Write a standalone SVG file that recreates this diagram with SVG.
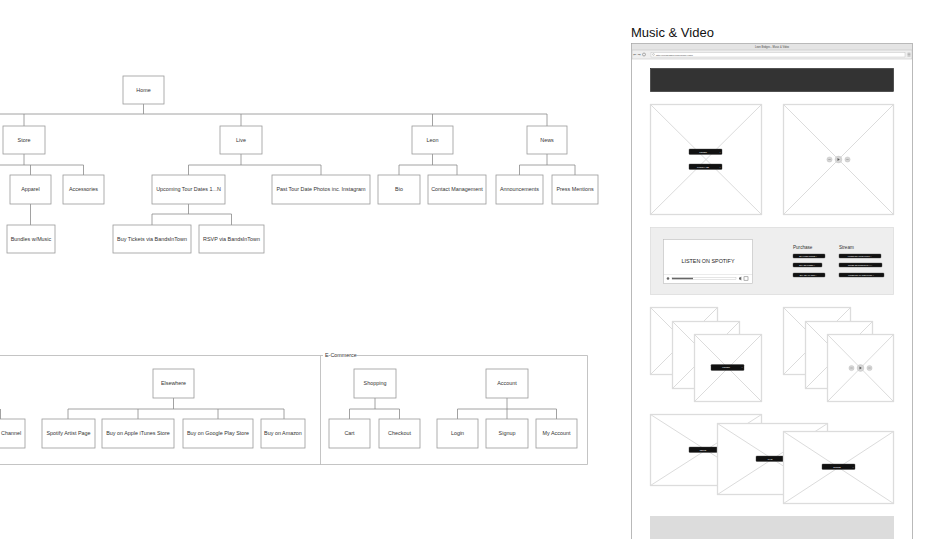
<svg xmlns="http://www.w3.org/2000/svg" width="936" height="539" viewBox="0 0 936 539">
<style>
.n rect{fill:#fff;stroke:#9a9a9a;stroke-width:0.8}
.n text{font-family:"Liberation Sans",Arial,sans-serif;font-size:5.4px;fill:#333;text-anchor:middle}
.c line,.c path{stroke:#8a8a8a;stroke-width:0.8;fill:none}
.ph{fill:#fff;stroke:#dcdcdc;stroke-width:1.3}
.phx{stroke:#dcdcdc;stroke-width:1}
.btn{fill:#111;stroke:#444;stroke-width:0.4}
.bt{font-family:"Liberation Sans",Arial,sans-serif;font-size:2.2px;fill:#fff;text-anchor:middle}
.ctl{fill:#d6d6d6;stroke:#bdbdbd;stroke-width:0.4}
</style>
<rect width="936" height="539" fill="#fff"/>

<!-- connectors -->
<g id="connectors" class="c">
<path d="M143.5 104V114M0 114H547M24 114V126M241 114V126M432.5 114V126M547 114V126"/>
<path d="M24 154V165M0 165H83.5M30.5 165V175M83.5 165V175M30.5 204V225"/>
<path d="M241 154V165M188.5 165H321M188.5 165V175M321 165V175"/>
<path d="M188.5 204V214M152 214H231.5M152 214V225M231.5 214V225"/>
<path d="M432.5 154V165M399 165H457M399 165V175M457 165V175"/>
<path d="M547 154V165M519.5 165H575M519.5 165V175M575 165V175"/>
<path d="M173.5 398V409M68 409H284M68 409V419M138 409V419M218 409V419M284 409V419M0.5 409V419"/>
<path d="M375 398V409M349.5 409H399.5M349.5 409V419M399.5 409V419"/>
<path d="M507 398V409M457.5 409H556.5M457.5 409V419M507 409V419M556.5 409V419"/>
</g>

<!-- E-Commerce frame -->
<g id="groups">
<path d="M0 355.5H587.5V464.5H0M320.5 355.5V464.5" fill="none" stroke="#b5b5b5" stroke-width="0.8"/>
<rect x="323" y="352" width="34" height="6" fill="#fff"/>
<text x="325" y="357.2" font-family="Liberation Sans,Arial,sans-serif" font-size="5.4" fill="#333">E-Commerce</text>
</g>

<!-- nodes -->
<g id="home" class="n"><rect x="123" y="76" width="41" height="28"/><text x="143.5" y="91.8">Home</text></g>
<g id="store" class="n"><rect x="3" y="126" width="42" height="28"/><text x="24" y="141.8">Store</text></g>
<g id="live" class="n"><rect x="220" y="126" width="42" height="28"/><text x="241" y="141.8">Live</text></g>
<g id="leon" class="n"><rect x="412" y="126" width="41" height="28"/><text x="432.5" y="141.8">Leon</text></g>
<g id="news" class="n"><rect x="527" y="126" width="40" height="28"/><text x="547" y="141.8">News</text></g>
<g id="apparel" class="n"><rect x="10" y="175" width="41" height="29"/><text x="30.5" y="191.3">Apparel</text></g>
<g id="accessories" class="n"><rect x="63" y="175" width="41" height="29"/><text x="83.5" y="191.3">Accessories</text></g>
<g id="bundles" class="n"><rect x="7" y="225" width="48" height="28"/><text x="31" y="240.8">Bundles w/Music</text></g>
<g id="upcoming" class="n"><rect x="152" y="175" width="73" height="29"/><text x="188.5" y="191.3">Upcoming Tour Dates 1...N</text></g>
<g id="past" class="n"><rect x="272" y="175" width="98" height="29"/><text x="321" y="191.3">Past Tour Date Photos inc. Instagram</text></g>
<g id="buytickets" class="n"><rect x="113" y="225" width="78" height="28"/><text x="152" y="240.8">Buy Tickets via BandsInTown</text></g>
<g id="rsvp" class="n"><rect x="199" y="225" width="65" height="28"/><text x="231.5" y="240.8">RSVP via BandsInTown</text></g>
<g id="bio" class="n"><rect x="378" y="175" width="42" height="29"/><text x="399" y="191.3">Bio</text></g>
<g id="contact" class="n"><rect x="428" y="175" width="58" height="29"/><text x="457" y="191.3">Contact Management</text></g>
<g id="announcements" class="n"><rect x="496" y="175" width="47" height="29"/><text x="519.5" y="191.3">Announcements</text></g>
<g id="press" class="n"><rect x="552" y="175" width="46" height="29"/><text x="575" y="191.3">Press Mentions</text></g>

<g id="elsewhere" class="n"><rect x="153" y="369" width="41" height="29"/><text x="173.5" y="385.3">Elsewhere</text></g>
<g id="channel" class="n"><rect x="-30" y="419" width="55" height="29"/><text x="1" y="435.3" style="text-anchor:start">Channel</text></g>
<g id="spotify" class="n"><rect x="42" y="419" width="53" height="29"/><text x="68.5" y="435.3">Spotify Artist Page</text></g>
<g id="itunes" class="n"><rect x="102" y="419" width="72" height="29"/><text x="138" y="435.3">Buy on Apple iTunes Store</text></g>
<g id="googleplay" class="n"><rect x="183" y="419" width="70" height="29"/><text x="218" y="435.3">Buy on Google Play Store</text></g>
<g id="amazon" class="n"><rect x="261" y="419" width="44" height="29"/><text x="283" y="435.3">Buy on Amazon</text></g>
<g id="shopping" class="n"><rect x="354" y="369" width="42" height="29"/><text x="375" y="385.3">Shopping</text></g>
<g id="account" class="n"><rect x="486" y="369" width="42" height="29"/><text x="507" y="385.3">Account</text></g>
<g id="cart" class="n"><rect x="329" y="419" width="41" height="29"/><text x="349.5" y="435.3">Cart</text></g>
<g id="checkout" class="n"><rect x="379" y="419" width="41" height="29"/><text x="399.5" y="435.3">Checkout</text></g>
<g id="login" class="n"><rect x="437" y="419" width="41" height="29"/><text x="457.5" y="435.3">Login</text></g>
<g id="signup" class="n"><rect x="486" y="419" width="42" height="29"/><text x="507" y="435.3">Signup</text></g>
<g id="myaccount" class="n"><rect x="536" y="419" width="41" height="29"/><text x="556.5" y="435.3">My Account</text></g>

<!-- wireframe -->
<g id="wireframe">
<text x="631" y="37" font-family="Liberation Sans,Arial,sans-serif" font-size="13" fill="#111">Music &amp; Video</text>
<rect x="631.5" y="43.5" width="281" height="500" fill="#fff" stroke="#a8a8a8" stroke-width="0.8"/>
<rect x="632" y="44" width="280" height="6" fill="#e4e4e4"/>
<text x="772" y="48.3" font-family="Liberation Sans,Arial,sans-serif" font-size="2.6" fill="#444" text-anchor="middle">Leon Bridges - Music &amp; Video</text>
<rect x="632" y="50" width="280" height="9" fill="#efefef" stroke="#bcbcbc" stroke-width="0.5"/>
<text x="633" y="55.8" font-family="DejaVu Sans,sans-serif" font-size="4" fill="#666">&#8592;</text>
<text x="637.5" y="55.8" font-family="DejaVu Sans,sans-serif" font-size="4" fill="#666">&#8594;</text>
<circle cx="644" cy="54.5" r="1.5" fill="none" stroke="#666" stroke-width="0.5"/>
<rect x="651" y="52.5" width="254" height="4.5" fill="#fff" stroke="#bbb" stroke-width="0.4"/>
<circle cx="653.5" cy="54.5" r="0.9" fill="none" stroke="#777" stroke-width="0.35"/>
<text x="656" y="55.6" font-family="Liberation Sans,Arial,sans-serif" font-size="2.4" fill="#444">http://leonbridges.com/music-video</text>
<path d="M907.5 53.2H910.5M907.5 54.6H910.5M907.5 56H910.5" stroke="#777" stroke-width="0.5"/>

<rect x="650.5" y="68.5" width="243" height="23" fill="#333" stroke="#222" stroke-width="0.6"/>

<rect class="ph" x="650.5" y="104.5" width="111" height="110"/>
<path class="phx" d="M650.5 104.5L761.5 214.5M761.5 104.5L650.5 214.5"/>
<rect class="btn" x="689" y="149" width="33" height="5.5" rx="0.8"/>
<text class="bt" x="703" y="152.6">LISTEN</text><text class="bt" x="719.8" y="152.6">&gt;</text>
<rect class="btn" x="689" y="164" width="33" height="5.5" rx="0.8"/>
<text class="bt" x="703" y="167.6">PURCHASE</text><text class="bt" x="719.8" y="167.6">&gt;</text>

<rect class="ph" x="783.5" y="104.5" width="110" height="110"/>
<path class="phx" d="M783.5 104.5L893.5 214.5M893.5 104.5L783.5 214.5"/>
<circle class="ctl" cx="829.5" cy="159.5" r="2.6"/><circle class="ctl" cx="838.5" cy="159.5" r="3.4"/><circle class="ctl" cx="847.5" cy="159.5" r="2.6"/>
<path d="M837.5 158V161L839.8 159.5Z" fill="#555"/>
<path d="M828.3 159.5H830.7M846.3 159.5H848.7" stroke="#777" stroke-width="0.4"/>

<rect x="650.5" y="227.5" width="243" height="67" fill="#eee" stroke="#dcdcdc" stroke-width="0.8"/>
<rect x="663.5" y="239.5" width="89" height="44" fill="#fff" stroke="#bbb" stroke-width="0.6"/>
<line x1="663.5" y1="274.5" x2="752.5" y2="274.5" stroke="#ccc" stroke-width="0.4"/>
<text x="708" y="262.5" font-family="Liberation Sans,Arial,sans-serif" font-size="5.4" fill="#222" text-anchor="middle">LISTEN ON SPOTIFY</text>
<circle cx="668" cy="278.5" r="1.3" fill="#666"/>
<rect x="672" y="277.8" width="64" height="1.4" fill="#fff" stroke="#aaa" stroke-width="0.3"/>
<rect x="672" y="277.8" width="21" height="1.4" fill="#666"/>
<path d="M739 277.6H740L741.3 276.6V280.4L740 279.4H739Z" fill="#666"/>
<rect x="744" y="276.8" width="4" height="3.4" fill="none" stroke="#666" stroke-width="0.5"/>

<text x="793" y="248.5" font-family="Liberation Sans,Arial,sans-serif" font-size="4.6" fill="#333">Purchase</text>
<text x="839" y="248.5" font-family="Liberation Sans,Arial,sans-serif" font-size="4.6" fill="#333">Stream</text>
<rect class="btn" x="793" y="254" width="32" height="4" rx="0.8"/><text class="bt" x="808" y="256.8" style="font-size:1.8px">BUY FROM STORE &gt;</text>
<rect class="btn" x="793" y="263" width="29" height="4" rx="0.8"/><text class="bt" x="807" y="265.8" style="font-size:1.8px">BUY ON ITUNES &gt;</text>
<rect class="btn" x="793" y="273" width="32" height="4" rx="0.8"/><text class="bt" x="808" y="275.8" style="font-size:1.8px">BUY ON AMAZON &gt;</text>
<rect class="btn" x="839" y="254" width="42" height="4" rx="0.8"/><text class="bt" x="859.5" y="256.8" style="font-size:1.8px">LISTEN ON APPLE MUSIC &gt;</text>
<rect class="btn" x="839" y="263" width="43" height="4" rx="0.8"/><text class="bt" x="860" y="265.8" style="font-size:1.8px">LISTEN ON GOOGLE PLAY &gt;</text>
<rect class="btn" x="839" y="273" width="45" height="4" rx="0.8"/><text class="bt" x="861" y="275.8" style="font-size:1.8px">LISTEN ON AMAZON MUSIC &gt;</text>

<rect class="ph" x="650.5" y="307.5" width="67" height="67"/><path class="phx" d="M650.5 307.5L717.5 374.5M717.5 307.5L650.5 374.5"/>
<rect class="ph" x="672.5" y="321.5" width="67" height="67"/><path class="phx" d="M672.5 321.5L739.5 388.5M739.5 321.5L672.5 388.5"/>
<rect class="ph" x="694.5" y="334.5" width="67" height="67"/><path class="phx" d="M694.5 334.5L761.5 401.5M761.5 334.5L694.5 401.5"/>
<rect class="btn" x="711" y="364.5" width="33" height="6" rx="0.8"/>
<text class="bt" x="726" y="368.3">LISTEN</text><text class="bt" x="742" y="368.3">&gt;</text>

<rect class="ph" x="783.5" y="307.5" width="67" height="67"/><path class="phx" d="M783.5 307.5L850.5 374.5M850.5 307.5L783.5 374.5"/>
<rect class="ph" x="805.5" y="321.5" width="67" height="67"/><path class="phx" d="M805.5 321.5L872.5 388.5M872.5 321.5L805.5 388.5"/>
<rect class="ph" x="827.5" y="334.5" width="66" height="67"/><path class="phx" d="M827.5 334.5L893.5 401.5M893.5 334.5L827.5 401.5"/>
<circle class="ctl" cx="851.5" cy="368" r="2.6"/><circle class="ctl" cx="860.5" cy="368" r="3.4"/><circle class="ctl" cx="869.5" cy="368" r="2.6"/>
<path d="M859.5 366.5V369.5L861.8 368Z" fill="#555"/>
<path d="M850.3 368H852.7M868.3 368H870.7" stroke="#777" stroke-width="0.4"/>

<rect class="ph" x="650.5" y="414.5" width="111" height="71"/><path class="phx" d="M650.5 414.5L761.5 485.5M761.5 414.5L650.5 485.5"/>
<rect class="btn" x="689" y="447" width="30" height="5.5" rx="0.8"/><text class="bt" x="703" y="450.6">NEWS</text>
<rect class="ph" x="717.5" y="423.5" width="110" height="71"/><path class="phx" d="M717.5 423.5L827.5 494.5M827.5 423.5L717.5 494.5"/>
<rect class="btn" x="756" y="456" width="29" height="5.5" rx="0.8"/><text class="bt" x="770" y="459.6">LIVE</text>
<rect class="ph" x="783.5" y="431.5" width="110" height="72"/><path class="phx" d="M783.5 431.5L893.5 503.5M893.5 431.5L783.5 503.5"/>
<rect class="btn" x="822" y="464" width="33" height="5.5" rx="0.8"/><text class="bt" x="837" y="467.6">STORE</text><text class="bt" x="853" y="467.6">&gt;</text>

<rect x="650" y="516" width="244" height="30" fill="#dcdcdc"/>
</g>
</svg>
